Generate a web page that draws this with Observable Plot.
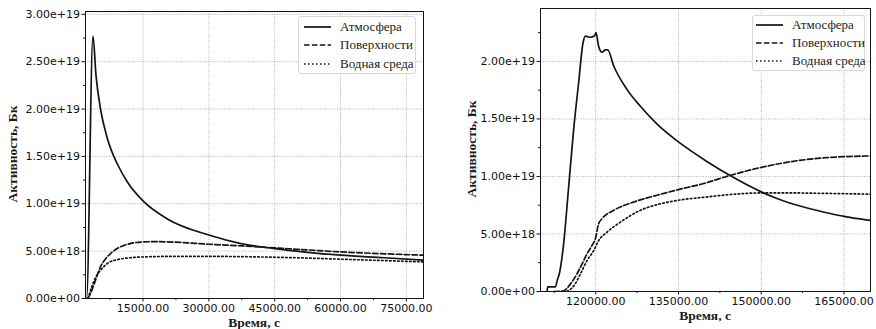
<!DOCTYPE html>
<html>
<head>
<meta charset="utf-8">
<script src="https://cdn.jsdelivr.net/npm/d3@7"></script>
<script src="https://cdn.jsdelivr.net/npm/@observablehq/plot@0.6"></script>
<style>
  body { margin: 0; background: #fff; }
  #wrap { position: relative; width: 876px; height: 329px; overflow: hidden; background: #fff; }
  .panel { position: absolute; top: 0; }
  .xlabel, .ylabel { position: absolute; font-family: "Liberation Serif", "Times New Roman", "DejaVu Serif", serif; font-weight: bold; font-size: 13.5px; color: #1a1a1a; white-space: nowrap; }
  .xlabel { transform: translateX(-50%); }
  .ylabel { transform: translate(-50%, -50%) rotate(-90deg); }
  .legend { position: absolute; background: rgba(255,255,255,0.85); border: 1px solid #d8d8d8; border-radius: 3px; box-sizing: border-box; font-family: "Liberation Serif", "Times New Roman", "DejaVu Serif", serif; font-size: 13px; color: #222; white-space: nowrap; }
  .legend .row { position: absolute; height: 16px; display: flex; align-items: center; white-space: nowrap; }
  .legend svg { display: block; flex: none; }
</style>
</head>
<body>
<div id="wrap"></div>
<script>
// Series names
const seriesNames = ["Атмосфера", "Поверхности", "Водная среда"];

// Left panel: activity vs time, 0–79000 s
const leftAtmT   = [1900, 2150, 3600, 4300, 5360, 6880, 9160, 11440, 15000, 20560, 30000, 37300, 45000, 52000, 60000, 70000, 78900];
const leftAtmV   = [0, 0, 2.77e19, 2.35e19, 1.99e19, 1.69e19, 1.42e19, 1.23e19, 1.03e19, 8.4e18, 6.7e18, 5.8e18, 5.27e18, 4.9e18, 4.57e18, 4.3e18, 4.04e18];
const leftSurfT  = [2400, 3000, 4000, 5360, 6500, 7630, 9000, 10670, 12960, 15000, 18000, 22000, 30000, 37500, 45000, 52500, 60000, 70000, 78900];
const leftSurfV  = [0, 0.5e18, 1.7e18, 3.4e18, 4.2e18, 4.75e18, 5.25e18, 5.6e18, 5.88e18, 5.97e18, 6.0e18, 5.95e18, 5.73e18, 5.55e18, 5.34e18, 5.13e18, 4.92e18, 4.72e18, 4.57e18];
const leftWaterT = [2500, 3300, 4300, 5360, 6880, 9160, 12000, 16000, 22000, 30000, 40000, 50000, 60000, 70000, 78900];
const leftWaterV = [0, 1.2e18, 2.3e18, 3.0e18, 3.7e18, 4.1e18, 4.3e18, 4.4e18, 4.45e18, 4.45e18, 4.4e18, 4.3e18, 4.15e18, 4.0e18, 3.86e18];

// Right panel: activity vs time, 110000–170000 s
const rightAtmT   = [111200, 111300, 112700, 113050, 113400, 114190, 115100, 116000, 116900, 117700, 118125, 119030, 119760, 120060, 120540, 121150, 121750, 122180, 123270, 125690, 128100, 131130, 135000, 140000, 145000, 150000, 152500, 155000, 157500, 160000, 162500, 165000, 167500, 169800];
const rightAtmV   = [0, 4.0e17, 4.0e17, 1.0e18, 1.52e18, 4.14e18, 9.1e18, 1.405e19, 1.81e19, 2.16e19, 2.22e19, 2.21e19, 2.22e19, 2.25e19, 2.13e19, 2.08e19, 2.10e19, 2.10e19, 1.96e19, 1.755e19, 1.61e19, 1.455e19, 1.30e19, 1.135e19, 0.99e19, 0.866e19, 0.815e19, 0.772e19, 0.737e19, 0.706e19, 0.678e19, 0.653e19, 0.633e19, 0.617e19];
const rightSurfT  = [112400, 114190, 115400, 116600, 117520, 118430, 119330, 119940, 120540, 121150, 123270, 126900, 131130, 135000, 139600, 144430, 150000, 155320, 160160, 165000, 169800];
const rightSurfV  = [0, 0.6e17, 0.64e18, 1.52e18, 2.39e18, 3.27e18, 4.0e18, 4.58e18, 5.9e18, 6.33e18, 7.06e18, 7.78e18, 8.37e18, 8.86e18, 9.39e18, 1.01e19, 1.079e19, 1.128e19, 1.157e19, 1.172e19, 1.178e19];
const rightWaterT = [114800, 116200, 117220, 118430, 119640, 120540, 122060, 124480, 128100, 131130, 135000, 140200, 144430, 150000, 155320, 160160, 169800];
const rightWaterV = [0, 0.6e18, 1.52e18, 2.68e18, 3.56e18, 4.43e18, 5.16e18, 6.03e18, 7.06e18, 7.55e18, 7.93e18, 8.22e18, 8.43e18, 8.57e18, 8.57e18, 8.54e18, 8.46e18];

// Tick values
const leftXTicks  = [15000, 30000, 45000, 60000, 75000];
const leftYTicks  = [0, 5e18, 1e19, 1.5e19, 2e19, 2.5e19, 3e19];
const rightXTicks = [120000, 135000, 150000, 165000];
const rightYTicks = [0, 5e18, 1e19, 1.5e19, 2e19];

const xLabel = "Время, с";
const yLabel = "Активность, Бк";

// Line styles per series (matplotlib-like '-', '--', ':')
const styles = [
  {dash: null},
  {dash: "5.5,2.4"},
  {dash: "1.5,2.5"}
];
const ink = "#141414";

function sci(d) {
  if (d === 0) return "0.00e+00";
  const e = Math.floor(Math.log10(Math.abs(d)) + 1e-9);
  const m = d / Math.pow(10, e);
  return m.toFixed(2) + "e" + (e >= 0 ? "+" : "-") + String(Math.abs(e)).padStart(2, "0");
}

function rows(ts, vs) { return ts.map((t, i) => ({t, v: vs[i]})); }

function halfSteps(ticks, lo, hi) {
  const step = ticks[1] - ticks[0];
  const out = [];
  for (let v = ticks[0] - step / 2; v <= hi; v += step / 2) if (v >= lo) out.push(v);
  return out;
}

function panel({width, ml, mr, mt, mb, xDomain, yDomain, xTicks, yTicks, series}) {
  const minorX = halfSteps(xTicks, xDomain[0], xDomain[1]).filter(v => !xTicks.includes(v));
  const minorY = halfSteps(yTicks, yDomain[0], yDomain[1]).filter(v => !yTicks.includes(v));
  return Plot.plot({
    width, height: 329,
    marginLeft: ml, marginRight: mr, marginTop: mt, marginBottom: mb,
    x: {domain: xDomain},
    y: {domain: yDomain},
    style: {fontFamily: "DejaVu Sans", fontSize: "11px", color: "#111", background: "transparent"},
    marks: [
      Plot.gridX(xTicks, {stroke: "#9a9a9a", strokeOpacity: 1, strokeWidth: 0.8, strokeDasharray: "1,1.4"}),
      Plot.gridY(yTicks, {stroke: "#9a9a9a", strokeOpacity: 1, strokeWidth: 0.8, strokeDasharray: "1,1.4"}),
      Plot.axisX(minorX, {tickSize: 2, text: null, label: null, stroke: ink}),
      Plot.axisY(minorY, {tickSize: 2, text: null, label: null, stroke: ink}),
      Plot.axisX(xTicks, {tickSize: 3.5, tickPadding: 2, tickFormat: d => d.toFixed(2), label: null, stroke: ink}),
      Plot.axisY(yTicks, {tickSize: 3.5, tickPadding: 2, tickFormat: sci, label: null, stroke: ink}),
      ...series.map((s, i) => Plot.line(s, {
        x: "t", y: "v", curve: "monotone-x", stroke: ink, strokeWidth: 1.7,
        strokeDasharray: styles[i].dash, clip: true
      })),
      Plot.frame({stroke: ink, strokeWidth: 1})
    ]
  });
}

function legend(box, sampleX0, sampleX1, textX, rowCenters) {
  const el = document.createElement("div");
  el.className = "legend";
  Object.assign(el.style, {left: box[0] + "px", top: box[1] + "px", width: box[2] + "px", height: box[3] + "px"});
  seriesNames.forEach((name, i) => {
    const row = document.createElement("div");
    row.className = "row";
    row.style.left = sampleX0 + "px";
    row.style.top = (rowCenters[i] - 8) + "px";
    const w = sampleX1 - sampleX0;
    row.innerHTML = `<svg width="${w}" height="16"><line x1="0" x2="${w}" y1="8" y2="8" stroke="${ink}" stroke-width="1.7" ${styles[i].dash ? `stroke-dasharray="${styles[i].dash}"` : ""}/></svg><span style="margin-left:${textX - sampleX1}px">${name}</span>`;
    el.appendChild(row);
  });
  return el;
}

const wrap = document.getElementById("wrap");

const left = panel({
  width: 440, ml: 85, mr: 17, mt: 11, mb: 31,
  xDomain: [1900, 78900], yDomain: [0, 3.03e19],
  xTicks: leftXTicks, yTicks: leftYTicks,
  series: [rows(leftAtmT, leftAtmV), rows(leftSurfT, leftSurfV), rows(leftWaterT, leftWaterV)]
});
left.classList.add("panel");
left.style.left = "0px";
wrap.appendChild(left);

const right = panel({
  width: 436, ml: 100, mr: 6, mt: 8, mb: 38,
  xDomain: [110000, 169800], yDomain: [0, 2.46e19],
  xTicks: rightXTicks, yTicks: rightYTicks,
  series: [rows(rightAtmT, rightAtmV), rows(rightSurfT, rightSurfV), rows(rightWaterT, rightWaterV)]
});
right.classList.add("panel");
right.style.left = "440px";
wrap.appendChild(right);

// Axis titles
function addLabel(cls, text, x, y) {
  const d = document.createElement("div");
  d.className = cls;
  d.textContent = text;
  d.style.left = x + "px";
  d.style.top = y + "px";
  wrap.appendChild(d);
}
addLabel("xlabel", xLabel, 254, 315);
addLabel("ylabel", yLabel, 13, 154);
addLabel("xlabel", xLabel, 705, 308);
addLabel("ylabel", yLabel, 472, 149);

// Legends
wrap.appendChild(legend([298, 16, 118, 58], 5, 32, 41, [10, 28.3, 46.7]));
wrap.appendChild(legend([752, 15, 113, 56], 3, 30, 39, [9.3, 27.3, 45]));
</script>
</body>
</html>
